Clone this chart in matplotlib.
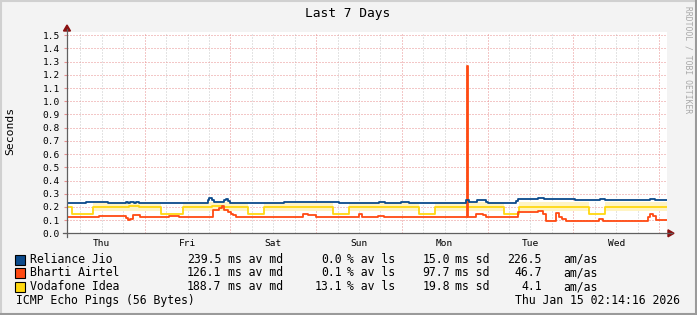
import numpy as np
import matplotlib
matplotlib.use('Agg')
import matplotlib.pyplot as plt
from matplotlib.lines import Line2D
from matplotlib.patches import Polygon, Rectangle

# time axis in hours since Thu Jan 8 00:00
t_start = 2.24
t_end = 170.24

day_labels = ['Thu', 'Fri', 'Sat', 'Sun', 'Mon', 'Tue', 'Wed']
day_pos = [12, 36, 60, 84, 108, 132, 156]

# Reliance Jio (seconds), step breakpoints
jio_t = [2.24, 7.56, 13.8, 18.8, 19.3, 19.9, 21.0, 21.6, 22.4, 41.7, 42.0, 42.8,
         43.4, 44.8, 46.2, 46.8, 47.3, 47.9, 63.0, 72.0, 72.8, 78.4, 89.6, 91.3,
         95.8, 98.0, 114.0, 114.8, 116.2, 117.0, 119.6, 120.1, 128.0, 128.5,
         134.1, 135.8, 143.1, 144.5, 151.5, 152.9, 165.5, 166.9, 170.24]
jio_v = [0.228, 0.235, 0.228, 0.235, 0.228, 0.235, 0.228, 0.235, 0.228, 0.25, 0.265,
         0.25, 0.235, 0.24, 0.25, 0.26, 0.245, 0.228, 0.235, 0.24, 0.235, 0.228,
         0.235, 0.228, 0.235, 0.228, 0.25, 0.235, 0.24, 0.25, 0.235, 0.228, 0.245,
         0.26, 0.27, 0.258, 0.262, 0.256, 0.26, 0.256, 0.262, 0.256, 0.256]

# Bharti Airtel
airtel_t = [2.24, 11.2, 17.9, 18.8, 19.3, 19.9, 20.7, 22.7, 30.8, 33.6, 43.1, 44.8,
            45.6, 46.2, 47.3, 48.2, 48.7, 49.6, 68.3, 69.7, 72.0, 84.0, 84.8, 89.3,
            91.0, 114.3, 114.55, 116.8, 118.7, 119.6, 128.5, 130.7, 133.3, 134.1,
            135.5, 136.4, 139.2, 140.0, 140.8, 142.0, 151.2, 152.3, 164.9, 165.5,
            166.3, 167.2, 170.24]
airtel_v = [0.125, 0.133, 0.128, 0.118, 0.10, 0.112, 0.138, 0.125, 0.133, 0.125,
            0.175, 0.195, 0.21, 0.18, 0.16, 0.148, 0.135, 0.125, 0.15, 0.138, 0.125,
            0.143, 0.125, 0.133, 0.125, 1.267, 0.125, 0.148, 0.135, 0.125, 0.163,
            0.158, 0.162, 0.17, 0.15, 0.095, 0.155, 0.127, 0.112, 0.095, 0.108,
            0.095, 0.122, 0.15, 0.13, 0.10, 0.10]

# Vodafone Idea, with its spread band
vi_t = [2.24, 3.6, 9.5, 19.6, 22.4, 28.6, 34.7, 42.8, 45.6, 52.9, 57.4, 76.7, 81.2,
        100.8, 105.3, 124.6, 128.8, 148.4, 152.9, 170.24]
vi_v = [0.2, 0.15, 0.2, 0.205, 0.2, 0.15, 0.2, 0.205, 0.2, 0.145, 0.2, 0.145, 0.2,
        0.145, 0.2, 0.147, 0.2, 0.147, 0.2, 0.2]
vi_lo = [0.2, 0.15, 0.17, 0.17, 0.17, 0.15, 0.17, 0.17, 0.17, 0.145, 0.17, 0.145,
         0.17, 0.145, 0.17, 0.147, 0.17, 0.147, 0.17, 0.17]
vi_hi = [0.2, 0.15, 0.235, 0.235, 0.235, 0.15, 0.235, 0.235, 0.235, 0.145, 0.235,
         0.145, 0.235, 0.145, 0.235, 0.147, 0.235, 0.147, 0.235, 0.235]

names = ['Reliance Jio', 'Bharti Airtel', 'Vodafone Idea']
colors = ['#0b4a8b', '#ff4a12', '#ffd810']
avg_ms = ['239.5', '126.1', '188.7']
loss_pct = ['0.0', '0.1', '13.1']
sd_ms = ['15.0', '97.7', '19.8']
amas = ['226.5', '46.7', '4.1']

W, H = 697, 315
mono = 'DejaVu Sans Mono'

fig = plt.figure(figsize=(W / 100, H / 100), dpi=100, facecolor='#f3f3f3')


def px(x, y):
    return x / W, 1 - y / H


ax = fig.add_axes([67 / W, 1 - 233.3 / H, 600 / W, (233.3 - 32) / H])
ax.set_facecolor('white')
ax.set_xlim(t_start, t_end)
ax.set_ylim(0, 1.525)
for s in ax.spines.values():
    s.set_visible(False)

# dotted grid
grid_kw = dict(lw=0.72, ls=(0, (1, 2)), zorder=1)
for h in range(6, 170, 6):
    if h % 24:
        ax.axvline(h, color='#c8c8c8', **grid_kw)
for h in range(24, 170, 24):
    ax.axvline(h, color='#e89090', **grid_kw)
for v in np.arange(0.1, 1.51, 0.1):
    ax.axhline(v, color='#e89090', **grid_kw)

# data
ax.fill_between(vi_t, vi_lo, vi_hi, step='post', color='#fff4c4', lw=0, zorder=2)
ax.step(vi_t, vi_v, where='post', color=colors[2], lw=1.3, zorder=3)
ax.step(airtel_t, airtel_v, where='post', color=colors[1], lw=1.3, zorder=4)
ax.step(jio_t, jio_v, where='post', color=colors[0], lw=1.3, zorder=5)

ax.set_yticks(np.round(np.arange(0, 1.51, 0.1), 1))
ax.set_yticklabels(['%.1f' % v for v in np.arange(0, 1.51, 0.1)],
                   fontsize=6.8, family=mono)
ax.set_xticks(day_pos)
ax.set_xticklabels(day_labels, fontsize=6.8, family=mono)
ax.tick_params(axis='y', length=2.2, color='#e89090', pad=3)
ax.tick_params(axis='x', length=0, pad=4)

# axes lines with arrows
fig.add_artist(Line2D([63 / W, 672 / W], [1 - 233.3 / H] * 2, color='#606060', lw=0.9))
fig.add_artist(Line2D([67 / W] * 2, [1 - 237 / H, 1 - 29 / H], color='#606060', lw=0.9))
fig.add_artist(Polygon([px(668, 229.8), px(668, 236.8), px(674, 233.3)], closed=True,
                       color='#8b1010', transform=fig.transFigure))
fig.add_artist(Polygon([px(63.5, 31), px(70.5, 31), px(67, 25)], closed=True,
                       color='#8b1010', transform=fig.transFigure))

# titles
fig.text(*px(348, 13), 'Last 7 Days', ha='center', va='center', fontsize=9.3, family=mono)
fig.text(*px(10, 131), 'Seconds', ha='center', va='center', rotation=90,
         fontsize=8.2, family=mono)
fig.text(*px(688, 60), 'RRDTOOL / TOBI OETIKER', ha='center', va='center',
         rotation=270, fontsize=5.8, family=mono, color='#a8a8a8')

# legend
fs = 8.3
rows_y = [259.5, 273, 286.5]
for i in range(3):
    y = rows_y[i]
    fig.add_artist(Rectangle(px(15, y + 5), 10 / W, 10 / H, facecolor=colors[i],
                             edgecolor='black', lw=0.8, transform=fig.transFigure))
    fig.text(*px(30, y), names[i], va='center', fontsize=fs, family=mono)
    fig.text(*px(221, y), avg_ms[i], ha='right', va='center', fontsize=fs, family=mono)
    fig.text(*px(228.5, y), 'ms av md', va='center', fontsize=fs, family=mono)
    fig.text(*px(342, y), loss_pct[i], ha='right', va='center', fontsize=fs, family=mono)
    fig.text(*px(347, y), '% av ls', va='center', fontsize=fs, family=mono)
    fig.text(*px(450, y), sd_ms[i], ha='right', va='center', fontsize=fs, family=mono)
    fig.text(*px(455, y), 'ms sd', va='center', fontsize=fs, family=mono)
    fig.text(*px(542, y), amas[i], ha='right', va='center', fontsize=fs, family=mono)
    fig.text(*px(563, y), 'am/as', va='center', fontsize=fs, family=mono)

fig.text(*px(16, 300.5), 'ICMP Echo Pings (56 Bytes)', va='center', fontsize=fs, family=mono)
fig.text(*px(680, 300.5), 'Thu Jan 15 02:14:16 2026', ha='right', va='center',
         fontsize=fs, family=mono)

# image border
fig.add_artist(Line2D([0, 1], [1 - 1 / H] * 2, color='#d0d0d0', lw=1.5))
fig.add_artist(Line2D([1 / W] * 2, [0, 1], color='#d0d0d0', lw=1.5))
fig.add_artist(Line2D([0, 1], [1 / H] * 2, color='#9a9a9a', lw=1.5))
fig.add_artist(Line2D([1 - 1 / W] * 2, [0, 1], color='#9a9a9a', lw=1.5))

fig.savefig('out.png', dpi=100, facecolor=fig.get_facecolor())
